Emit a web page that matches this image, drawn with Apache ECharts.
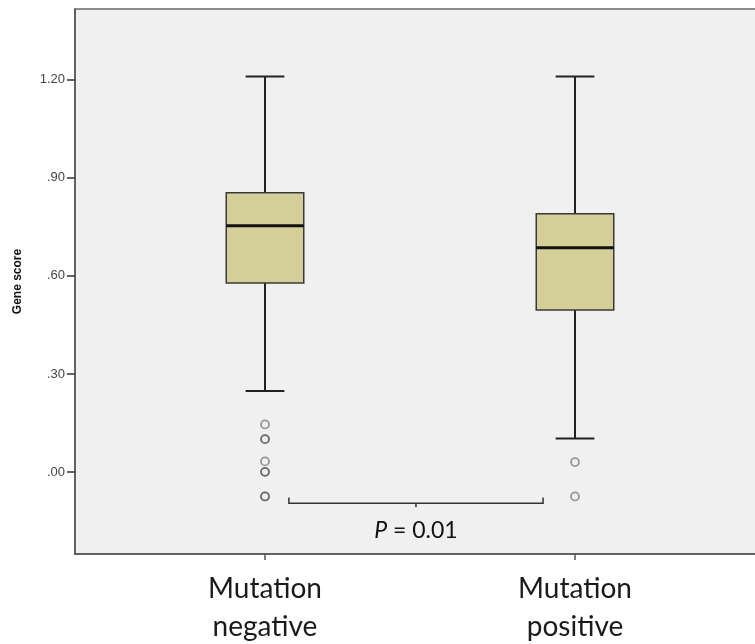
<!DOCTYPE html>
<html>
<head>
<meta charset="utf-8">
<script src="https://cdn.jsdelivr.net/npm/echarts@6/dist/echarts.min.js"></script>
<style>
  html, body { margin: 0; padding: 0; background: #ffffff; }
  #chart { width: 755px; height: 644px; }
</style>
</head>
<body>
<div id="chart"></div>
<script>
// Groups on the x axis (positions 0 and 1)
const categories = ['Mutation\nnegative', 'Mutation\npositive'];

// Five-number summaries per group: [lower whisker, Q1, median, Q3, upper whisker]
const boxStats = [
  [0.248, 0.578, 0.753, 0.854, 1.209],
  [0.103, 0.496, 0.686, 0.790, 1.209]
];

// Outlying observations: [group index, gene score]
const outliers = [
  [0, 0.146], [0, 0.101], [0, 0.101], [0, 0.033], [0, 0.001], [0, 0.001], [0, -0.074], [0, -0.074],
  [1, 0.031], [1, -0.074]
];

// Y axis ticks and their labels
const yTicks = [0, 0.3, 0.6, 0.9, 1.2];
const yTickLabels = ['.00', '.30', '.60', '.90', '1.20'];

// Significance bracket between the groups: [start, end, level, arm height, label level]
const bracket = [[0.077, 0.897, -0.095, 0.018, -0.178]];
const pLabel = ['P', ' = 0.01'];

const chart = echarts.init(document.getElementById('chart'), null, { renderer: 'canvas' });

const option = {
  animation: false,
  backgroundColor: '#ffffff',
  grid: {
    left: 75, top: 9, right: -6, bottom: 90,
    outerBoundsMode: 'none',
    containLabel: false,
    show: true,
    backgroundColor: '#f0f0f0',
    borderColor: '#6a6a6a',
    borderWidth: 1.5
  },
  xAxis: {
    type: 'value',
    min: -0.6129,
    max: 1.6,
    axisLine: { show: true, onZero: false, lineStyle: { color: '#555', width: 1.5 } },
    axisTick: {
      show: true, length: 6, inside: false,
      customValues: [0, 1],
      lineStyle: { color: '#555', width: 1.5 }
    },
    splitLine: { show: false },
    axisLabel: {
      customValues: [0, 1],
      formatter: v => categories[Math.round(v)],
      fontFamily: 'Lato',
      fontSize: 28,
      lineHeight: 38,
      color: '#1a1a1a',
      margin: 16
    }
  },
  yAxis: {
    type: 'value',
    min: -0.25,
    max: 1.4156,
    name: 'Gene score',
    nameLocation: 'middle',
    nameGap: 51,
    nameTextStyle: { fontFamily: 'Liberation Sans', fontWeight: 'bold', fontSize: 12, color: '#111' },
    axisLine: { show: true, onZero: false, lineStyle: { color: '#555', width: 1.5 } },
    axisTick: {
      show: true, length: 8,
      customValues: yTicks,
      lineStyle: { color: '#333', width: 1.5 }
    },
    splitLine: { show: false },
    axisLabel: {
      customValues: yTicks,
      formatter: v => yTickLabels[yTicks.findIndex(t => Math.abs(t - v) < 1e-6)],
      fontFamily: 'Liberation Sans',
      fontSize: 13,
      color: '#444',
      margin: 10
    }
  },
  series: [
    {
      name: 'box',
      type: 'custom',
      data: boxStats.map((s, i) => [i].concat(s)),
      encode: { x: 0, y: [1, 2, 3, 4, 5] },
      z: 3,
      renderItem: function (params, api) {
        const x = api.value(0);
        const lo = api.coord([x, api.value(1)]);
        const q1 = api.coord([x, api.value(2)]);
        const med = api.coord([x, api.value(3)]);
        const q3 = api.coord([x, api.value(4)]);
        const hi = api.coord([x, api.value(5)]);
        const w = api.size([0.25, 0])[0];
        const cx = lo[0];
        const cap = w / 4;
        const lineStyle = { stroke: '#222', lineWidth: 2 };
        return {
          type: 'group',
          children: [
            { type: 'line', shape: { x1: cx, y1: q1[1], x2: cx, y2: lo[1] }, style: lineStyle },
            { type: 'line', shape: { x1: cx, y1: q3[1], x2: cx, y2: hi[1] }, style: lineStyle },
            { type: 'line', shape: { x1: cx - cap, y1: lo[1], x2: cx + cap, y2: lo[1] }, style: lineStyle },
            { type: 'line', shape: { x1: cx - cap, y1: hi[1], x2: cx + cap, y2: hi[1] }, style: lineStyle },
            {
              type: 'rect',
              shape: { x: cx - w / 2, y: q3[1], width: w, height: q1[1] - q3[1] },
              style: { fill: '#d4cf98', stroke: '#3a3a3a', lineWidth: 1.5 }
            },
            { type: 'line', shape: { x1: cx - w / 2, y1: med[1], x2: cx + w / 2, y2: med[1] }, style: { stroke: '#111', lineWidth: 3 } }
          ]
        };
      }
    },
    {
      name: 'outliers',
      type: 'scatter',
      data: outliers,
      symbol: 'circle',
      symbolSize: 8,
      z: 4,
      itemStyle: { color: 'rgba(0,0,0,0)', borderColor: 'rgba(70,70,70,0.65)', borderWidth: 1.8 }
    },
    {
      name: 'bracket',
      type: 'custom',
      data: bracket,
      encode: { x: [0, 1], y: [2, 4] },
      z: 4,
      renderItem: function (params, api) {
        const x0 = api.value(0), x1 = api.value(1), y = api.value(2), arm = api.value(3), ty = api.value(4);
        const mid = (x0 + x1) / 2;
        const a = api.coord([x0, y + arm]);
        const b = api.coord([x0, y]);
        const c = api.coord([x1, y]);
        const d = api.coord([x1, y + arm]);
        const m = api.coord([mid, y]);
        const t = api.coord([mid, ty]);
        return {
          type: 'group',
          children: [
            { type: 'polyline', shape: { points: [a, b, c, d] }, style: { stroke: '#333', lineWidth: 1.5, fill: null } },
            { type: 'line', shape: { x1: m[0], y1: m[1], x2: m[0], y2: m[1] + 4 }, style: { stroke: '#333', lineWidth: 1.5 } },
            {
              type: 'text',
              x: t[0], y: t[1],
              style: {
                text: '{i|' + pLabel[0] + '}{n|' + pLabel[1] + '}',
                align: 'center', verticalAlign: 'middle',
                rich: {
                  i: { fontFamily: 'Lato', fontStyle: 'italic', fontSize: 23, fill: '#111' },
                  n: { fontFamily: 'Lato', fontSize: 23, fill: '#111' }
                }
              }
            }
          ]
        };
      }
    }
  ]
};

chart.setOption(option);
</script>
</body>
</html>
